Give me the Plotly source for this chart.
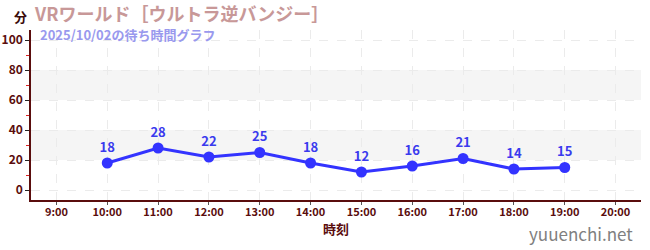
import plotly.graph_objects as go

hours = [10, 11, 12, 13, 14, 15, 16, 17, 18, 19]
waits = [18, 28, 22, 25, 18, 12, 16, 21, 14, 15]
tick_vals = [9, 10, 11, 12, 13, 14, 15, 16, 17, 18, 19, 20]
tick_text = ["9:00", "10:00", "11:00", "12:00", "13:00", "14:00", "15:00",
             "16:00", "17:00", "18:00", "19:00", "20:00"]
bands = [(20, 40), (60, 80)]
title = "VRワールド［ウルトラ逆バンジー］"
subtitle = "2025/10/02の待ち時間グラフ"

FONT = "Noto Sans CJK JP"
AX = "#5a0d0d"

fig = go.Figure()
fig.add_trace(go.Scatter(
    x=hours, y=waits, mode="lines+markers+text",
    text=[str(v) for v in waits], textposition="top center",
    textfont=dict(family=FONT, size=13, color="#3a3aee", weight="bold"),
    line=dict(color="#3333ff", width=3),
    marker=dict(color="#3333ff", size=11),
    cliponaxis=False, hoverinfo="skip"))

for y0, y1 in bands:
    fig.add_shape(type="rect", xref="paper", x0=0, x1=1, yref="y", y0=y0, y1=y1,
                  fillcolor="#f5f5f5", line_width=0, layer="below")

fig.update_layout(
    width=650, height=250, margin=dict(l=31, r=9, t=30, b=50),
    paper_bgcolor="white", plot_bgcolor="white", showlegend=False,
    font=dict(family=FONT, color=AX),
    xaxis=dict(range=[8.5, 20.5], tickvals=tick_vals, ticktext=tick_text,
               automargin=False,
               showline=True, linecolor=AX, linewidth=1.5,
               ticks="outside", ticklen=3, tickcolor="#555",
               ticklabelstandoff=-2,
               tickfont=dict(family=FONT, size=11, color=AX, weight="bold"),
               showgrid=True, gridcolor="#ebebeb", griddash="dash", gridwidth=1,
               zeroline=False,
               title=dict(text="時刻", font=dict(family=FONT, size=13, color=AX, weight="bold"),
                          standoff=4)),
    yaxis=dict(range=[-6.67, 106.7], tickvals=[0, 20, 40, 60, 80, 100],
               automargin=False,
               showline=True, linecolor=AX, linewidth=1.5,
               ticks="outside", ticklen=4, tickcolor="#222",
               tickfont=dict(family=FONT, size=12, color=AX, weight="bold"),
               showgrid=True, gridcolor="#ebebeb", griddash="dash", gridwidth=1,
               zeroline=False,
               minor=dict(tickvals=[10, 30, 50, 70, 90], ticks="outside", ticklen=3,
                          tickcolor="#dd2222", showgrid=False)),
    annotations=[
        dict(text="分", xref="paper", yref="paper", x=0, y=1.0, xanchor="center",
             yanchor="middle", xshift=-11, yshift=14, showarrow=False,
             font=dict(family=FONT, size=13, color="#3a0a0a", weight="bold")),
        dict(text=title, xref="paper", yref="paper", x=0, y=1.0, xanchor="left",
             yanchor="middle", yshift=17, xshift=2, showarrow=False, borderpad=0,
             font=dict(family=FONT, size=18, color="#c89898", weight="bold")),
        dict(text=subtitle, xref="paper", yref="paper", x=0, y=1.0, xanchor="left",
             yanchor="middle", yshift=-4, xshift=8, showarrow=False, borderpad=0,
             font=dict(family=FONT, size=13, color="#9999ee", weight="bold")),
        dict(text="yuuenchi.net", xref="paper", yref="paper", x=1.0, y=0, xanchor="right",
             yanchor="middle", xshift=-6, yshift=-33, showarrow=False,
             font=dict(family=FONT, size=17, color="#808080")),
    ],
)

fig.write_html("out.html")
